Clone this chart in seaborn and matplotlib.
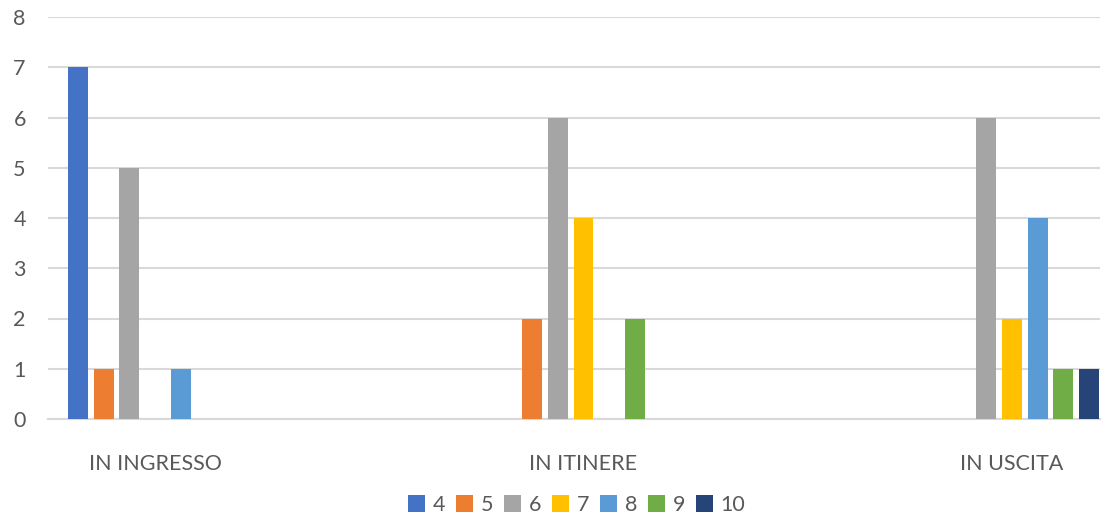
import matplotlib
matplotlib.use("Agg")
import matplotlib.pyplot as plt
import seaborn as sns
import pandas as pd

categories = ["IN INGRESSO", "IN ITINERE", "IN USCITA"]
series = ["4", "5", "6", "7", "8", "9", "10"]
values = {
    "4": [7, 0, 0],
    "5": [1, 2, 0],
    "6": [5, 6, 6],
    "7": [0, 4, 2],
    "8": [1, 0, 4],
    "9": [0, 2, 1],
    "10": [0, 0, 1],
}
colors = ["#4472C4", "#ED7D31", "#A5A5A5", "#FFC000", "#5B9BD5", "#70AD47", "#264478"]

rows = []
for s in series:
    for c, v in zip(categories, values[s]):
        rows.append({"cat": c, "serie": s, "val": v})
df = pd.DataFrame(rows)

sns.set_theme(style="white")
plt.rcParams["font.family"] = ["Lato", "DejaVu Sans"]

fig = plt.figure(figsize=(11.07, 5.2), dpi=100)
ax = fig.add_axes([48 / 1107, (520 - 419) / 520, (1100 - 48) / 1107, (419 - 17) / 520])

sns.barplot(data=df, x="cat", y="val", hue="serie", hue_order=series, order=categories,
            palette=colors, width=0.418, gap=0.22, saturation=1, ax=ax, legend=True,
            zorder=3, linewidth=0)

ax.set_xlim(-0.2497, 2.2054)
ax.set_ylim(0, 8)
ax.set_yticks(range(0, 9))
ax.yaxis.grid(True, color="#D9D9D9", linewidth=1.5, zorder=0)
ax.set_axisbelow(True)
for side in ["left", "right", "top"]:
    ax.spines[side].set_visible(False)
ax.spines["bottom"].set_color("#D9D9D9")
ax.spines["bottom"].set_linewidth(1.5)
ax.tick_params(axis="both", length=0, colors="#595959", labelsize=15.5)
ax.tick_params(axis="y", pad=16)
ax.tick_params(axis="x", pad=25)
ax.set_xlabel("")
ax.set_ylabel("")

h, l = ax.get_legend_handles_labels()
ax.get_legend().remove()
leg = fig.legend(h, l, loc="lower center", bbox_to_anchor=(0.521, -0.028), ncol=7,
                 frameon=False, fontsize=15.5, handlelength=0.8, handleheight=0.8,
                 handletextpad=0.35, columnspacing=0.5, labelcolor="#595959")

fig.savefig("out.png", dpi=100)
